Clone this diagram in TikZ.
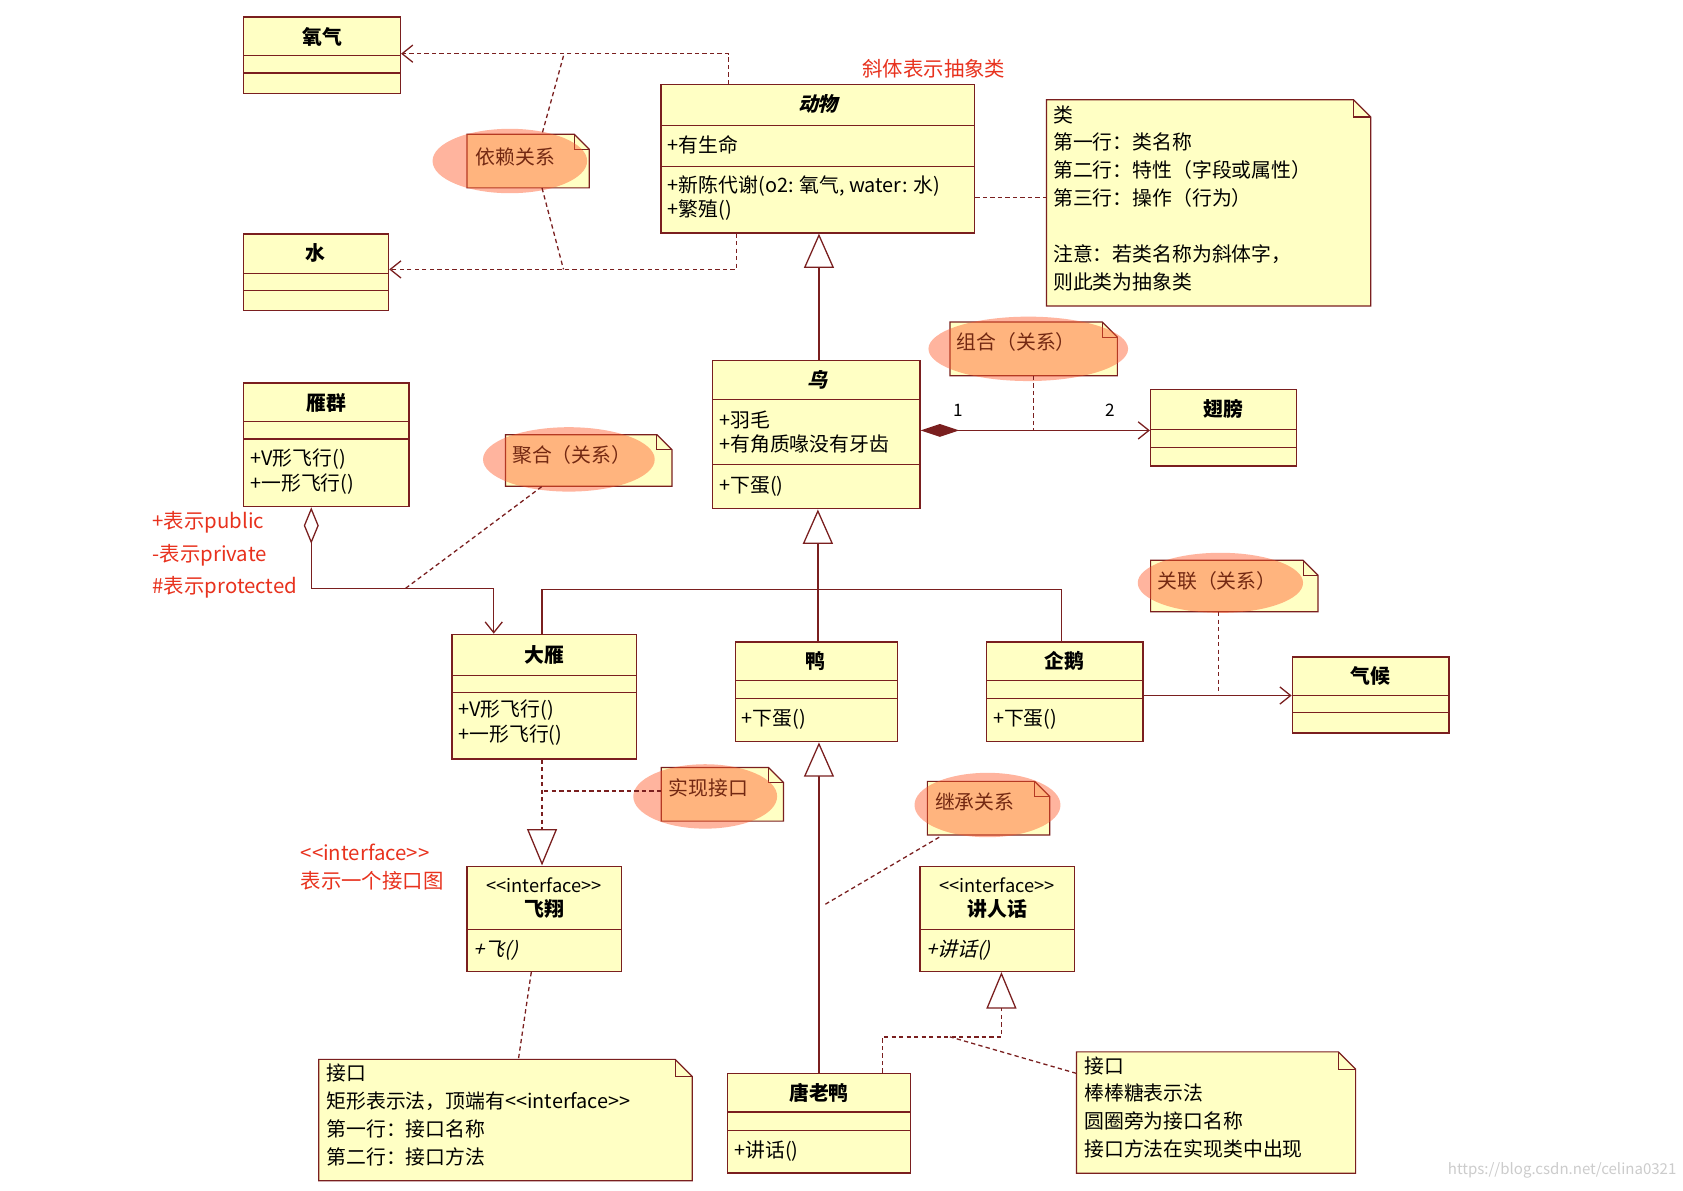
\documentclass[tikz,border=0pt]{standalone}
\usepackage{fontspec}
\setmainfont{Noto Sans CJK SC}
\usetikzlibrary{arrows.meta,fit,calc}
\definecolor{lc}{HTML}{7A1F1F}
\definecolor{yel}{HTML}{FFFFC4}
\definecolor{rd}{HTML}{E8321E}
\definecolor{hlc}{HTML}{FF5A2A}
\newcommand\ucls[7]{%
 \node[draw=lc,fill=yel,line width=1.3pt,inner sep=0pt,fit={(#2,#3)(#4,#5)}] (#1) {};
 \draw[lc,line width=1.1pt] (#2,#6) -- (#4,#6) (#2,#7) -- (#4,#7);}
\newcommand\unote[6]{% name x1 y1 x2 y2 fold
 \draw[lc,line width=1.1pt,fill=yel] (#2,#3) -- ({#4-#6},#3) -- (#4,{#3+#6}) -- (#4,#5) -- (#2,#5) -- cycle;
 \draw[lc,line width=1pt] ({#4-#6},#3) -- ({#4-#6},{#3+#6}) -- (#4,{#3+#6});
 \node[inner sep=0pt,fit={(#2,#3)(#4,#5)}] (#1) {};}
\newcommand\hl[4]{\fill[hlc,opacity=0.45] (#1,#2) ellipse [x radius=#3, y radius=#4];}
\tikzset{
 t/.style={anchor=west,inner sep=0pt,font=\fontsize{18.5}{22}\selectfont},
 tb/.style={anchor=center,inner sep=0pt,font=\fontsize{18.5}{22}\selectfont\bfseries},
 rt/.style={anchor=west,inner sep=0pt,text=rd,font=\fontsize{19}{22}\selectfont},
 con/.style={lc,line width=1.2pt},
 dep/.style={con,dashed,dash pattern=on 4pt off 3pt},
 oa/.style={-{Straight Barb[length=10pt,width=16pt]}},
 inh/.style={con,-{Triangle[open,fill=white,length=32pt,width=28pt]}},
}
\newcommand\ifc{{<}{<}interface{>}{>}}
\begin{document}
\begin{tikzpicture}[x=1pt,y=-1pt]
\useasboundingbox (0,0) rectangle (1568,1109);
\fill[white] (0,0) rectangle (1568,1109);
% classes
\ucls{yangqi}{227}{16}{373}{87}{52}{68}
\node[tb] at (300,34) {氧气};
\ucls{shui}{227}{218}{362}{289}{255}{271}
\node[tb] at (294,236) {水};
\ucls{dongwu}{616}{79}{908}{217}{117}{155}
\node[tb] at (762,97) {\addfontfeature{FakeSlant=0.25}动物};
\node[t] at (622,135) {+有生命};
\node[t] at (622,173) {+新陈代谢(o2: 氧气, water: 水)};
\node[t] at (622,196) {+繁殖()};
\ucls{niao}{664}{336}{857}{474}{372}{433}
\node[tb] at (762,354) {\addfontfeature{FakeSlant=0.25}鸟};
\node[t] at (670,391) {+羽毛};
\node[t] at (670,414) {+有角质喙没有牙齿};
\node[t] at (670,453) {+下蛋()};
\ucls{chibang}{1072}{363}{1208}{434}{400}{417}
\node[tb] at (1140,381) {翅膀};
\ucls{yanqun}{227}{357}{381}{472}{393}{409}
\node[tb] at (304,375) {雁群};
\node[t] at (233,428) {+V形飞行()};
\node[t] at (233,451) {+一形飞行()};
\ucls{dayan}{421}{591}{593}{707}{629}{645}
\node[tb] at (507,610) {大雁};
\node[t] at (427,662) {+V形飞行()};
\node[t] at (427,685) {+一形飞行()};
\ucls{ya}{685}{598}{836}{691}{634}{651}
\node[tb] at (760,616) {鸭};
\node[t] at (691,670) {+下蛋()};
\ucls{qie}{919}{598}{1065}{691}{634}{651}
\node[tb] at (992,616) {企鹅};
\node[t] at (925,670) {+下蛋()};
\ucls{qihou}{1204}{612}{1350}{683}{648}{664}
\node[tb] at (1277,630) {气候};
\ucls{tanglaoya}{678}{1000}{848}{1093}{1036}{1053}
\node[tb] at (763,1018) {唐老鸭};
\node[t] at (684,1072) {+讲话()};
% interfaces
\node[draw=lc,fill=yel,line width=1.3pt,inner sep=0pt,fit={(435,807)(579,905)}] (feixiang) {};
\draw[lc,line width=1.1pt] (435,866) -- (579,866);
\node[anchor=center,inner sep=0pt,font=\fontsize{17}{20}\selectfont] at (507,825) {\ifc};
\node[tb] at (507,847) {飞翔};
\node[t] at (441,885) {\addfontfeature{FakeSlant=0.25}+飞()};
\node[draw=lc,fill=yel,line width=1.3pt,inner sep=0pt,fit={(857,807)(1001,905)}] (jiangrenhua) {};
\draw[lc,line width=1.1pt] (857,866) -- (1001,866);
\node[anchor=center,inner sep=0pt,font=\fontsize{17}{20}\selectfont] at (929,825) {\ifc};
\node[tb] at (929,847) {讲人话};
\node[t] at (863,885) {\addfontfeature{FakeSlant=0.25}+讲话()};
% notes
\unote{nlei}{975}{93}{1277}{285}{16}
\node[t,anchor=north west,align=left,font=\fontsize{18.5}{26}\selectfont] at (981,98) {类\\第一行：类名称\\第二行：特性（字段或属性）\\第三行：操作（行为）\\[26pt]注意：若类名称为斜体字，\\则此类为抽象类};
\unote{nyilai}{435}{125}{549}{175}{14}
\node[t] at (443,146) {依赖关系};
\unote{nzuhe}{885}{300}{1041}{350}{14}
\node[t] at (891,319) {组合（关系）};
\unote{njuhe}{471}{405}{626}{453}{14}
\node[t] at (477,424) {聚合（关系）};
\unote{nguanlian}{1072}{522}{1228}{570}{14}
\node[t] at (1078,541) {关联（关系）};
\unote{nshixian}{616}{715}{730}{765}{14}
\node[t] at (623,734) {实现接口};
\unote{njicheng}{864}{728}{978}{778}{14}
\node[t] at (871,747) {继承关系};
\unote{njiekou}{297}{987}{645}{1100}{16}
\node[t,anchor=north west,align=left,font=\fontsize{18.5}{26}\selectfont] at (304,991) {接口\\矩形表示法，顶端有\ifc\\第一行：接口名称\\第二行：接口方法};
\unote{njiekou2}{1003}{980}{1263}{1093}{16}
\node[t,anchor=north west,align=left,font=\fontsize{18.5}{26}\selectfont] at (1010,984) {接口\\棒棒糖表示法\\圆圈旁为接口名称\\接口方法在实现类中出现};
% highlights
\hl{475}{150}{72}{30}
\hl{958}{325}{93}{30}
\hl{530}{428}{80}{30}
\hl{1137}{543}{77}{28}
\hl{657}{742}{67}{30}
\hl{920}{750}{68}{30}
% red annotations
\node[rt,anchor=center] at (870,64) {斜体表示抽象类};
\node[rt] at (142,487) {+表示public};
\node[rt] at (142,517) {-表示private};
\node[rt] at (142,547) {\#表示protected};
\node[rt] at (280,794) {\ifc};
\node[rt] at (280,821) {表示一个接口图};
\node[anchor=east,inner sep=0pt,text=black!20,font=\fontsize{14}{16}\selectfont] at (1562,1090) {https://blog.csdn.net/celina0321};
% connectors
\draw[dep,oa] (679,0 |- dongwu.north) -- (679,50) -- (yangqi.east |- 0,50);
\draw[dep,oa] (686,0 |- dongwu.south) -- (686,251) -- (shui.east |- 0,251);
\draw[dep] (525,52) -- (505,0 |- nyilai.north);
\draw[dep] (505,0 |- nyilai.south) -- (525,251);
\draw[dep] (dongwu.east |- 0,184) -- (nlei.west |- 0,184);
\draw[inh] (763,0 |- niao.north) -- (763,0 |- dongwu.south);
\draw[con,{Diamond[length=36pt,width=12pt]}-{Straight Barb[length=10pt,width=16pt]}] (niao.east |- 0,401) -- (chibang.west |- 0,401);
\node[font=\fontsize{16}{18}\selectfont,inner sep=0pt] at (893,382) {1};
\node[font=\fontsize{16}{18}\selectfont,inner sep=0pt] at (1034,382) {2};
\draw[dep] (963,0 |- nzuhe.south) -- (963,401);
\draw[con,{Diamond[open,fill=white,length=34pt,width=14pt]}-{Straight Barb[length=10pt,width=16pt]}] (290,0 |- yanqun.south) -- (290,548) -- (460,548) -- (460,0 |- dayan.north);
\draw[dep] (378,548) -- (505,0 |- njuhe.south);
\draw[inh] (762,0 |- ya.north) -- (762,0 |- niao.south);
\draw[con] (505,0 |- dayan.north) -- (505,549) -- (989,549) -- (989,0 |- qie.north);
\draw[con,oa] (qie.east |- 0,648) -- (qihou.west |- 0,648);
\draw[dep] (1135,0 |- nguanlian.south) -- (1135,648);
\draw[dep,-{Triangle[open,fill=white,length=34pt,width=28pt]}] (505,0 |- dayan.south) -- (505,0 |- feixiang.north);
\draw[dep] (507,737) -- (nshixian.west |- 0,737);
\draw[dep] (495,0 |- feixiang.south) -- (483,0 |- njiekou.north);
\draw[inh] (763,0 |- tanglaoya.north) -- (763,0 |- ya.south);
\draw[dep] (875,780) -- (768,843);
\draw[dep,-{Triangle[open,fill=white,length=34pt,width=28pt]}] (822,0 |- tanglaoya.north) -- (822,966) -- (933,966) -- (933,0 |- jiangrenhua.south);
\draw[dep] (njiekou2.west |- 0,1000) -- (885,966);
\end{tikzpicture}
\end{document}
